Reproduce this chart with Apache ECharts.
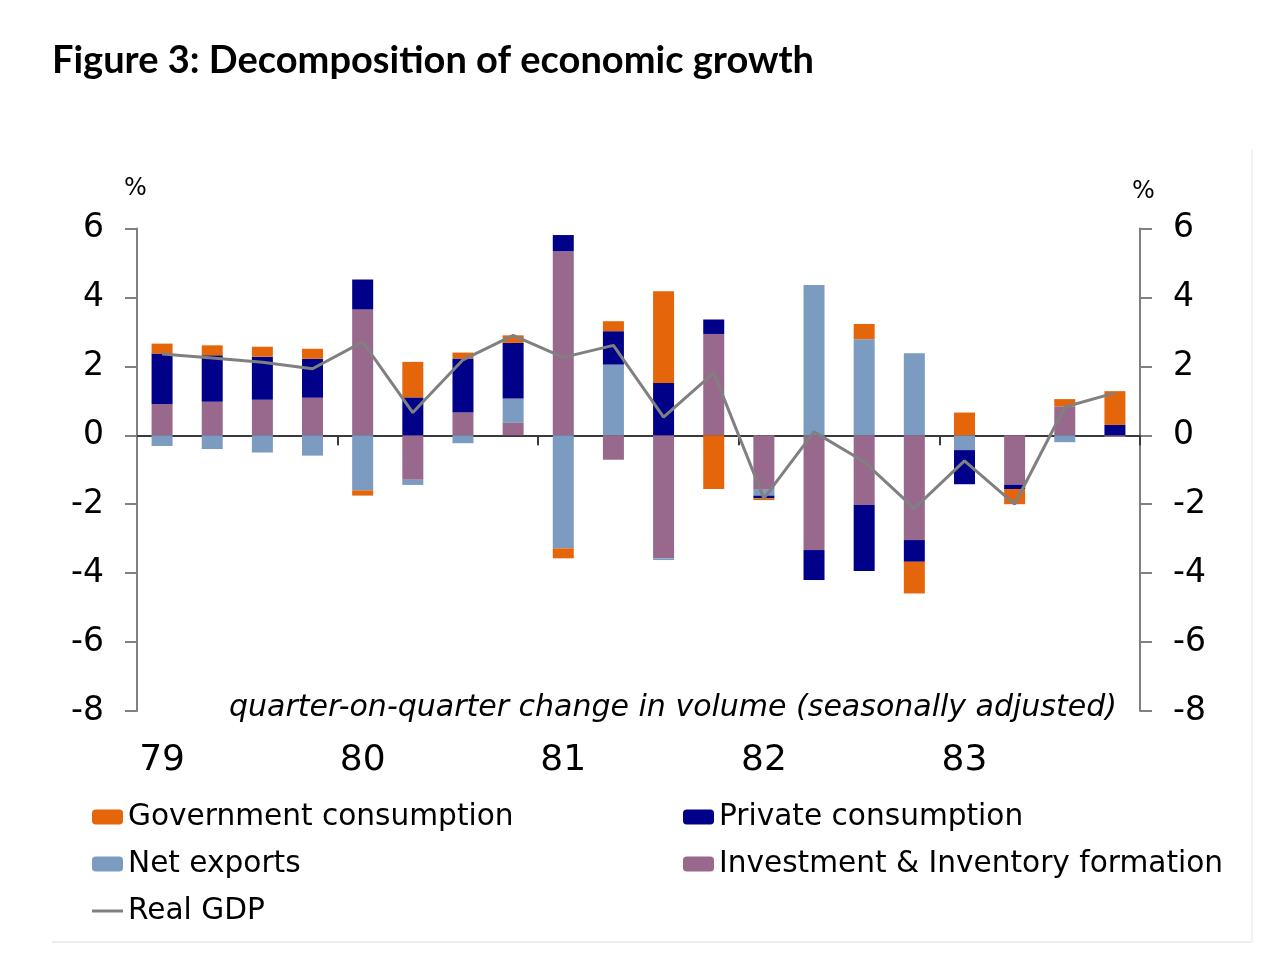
<!DOCTYPE html>
<html>
<head>
<meta charset="utf-8">
<script src="https://cdn.jsdelivr.net/npm/echarts@6/dist/echarts.min.js"></script>
<style>html,body{margin:0;padding:0;background:#fff;}#c{width:1266px;height:966px;}</style>
</head>
<body>
<div id="c"></div>
<script>
const quarters = ['79 Q1','79 Q2','79 Q3','79 Q4','80 Q1','80 Q2','80 Q3','80 Q4','81 Q1','81 Q2','81 Q3','81 Q4','82 Q1','82 Q2','82 Q3','82 Q4','83 Q1','83 Q2','83 Q3','83 Q4'];
const investment = [0.91, 0.97, 1.03, 1.09, 3.65, -1.29, 0.66, 0.36, 5.34, -0.71, -3.57, 2.94, -1.58, -3.33, -2.02, -3.04, 0, -1.43, 0.84, -0.05];
const netExports = [-0.31, -0.40, -0.50, -0.59, -1.60, -0.15, -0.23, 0.71, -3.28, 2.05, -0.05, 0, -0.17, 4.36, 2.79, 2.38, -0.43, 0, -0.20, 0];
const privateCons = [1.46, 1.35, 1.25, 1.13, 0.87, 1.10, 1.57, 1.61, 0.47, 0.97, 1.52, 0.42, -0.08, -0.87, -1.92, -0.63, -0.99, -0.13, 0, 0.30];
const governmentCons = [0.29, 0.29, 0.29, 0.29, -0.15, 1.03, 0.17, 0.22, -0.29, 0.29, 2.66, -1.56, -0.05, 0, 0.44, -0.92, 0.66, -0.44, 0.21, 0.98];
const realGDP = [2.36, 2.24, 2.12, 1.93, 2.71, 0.66, 2.19, 2.90, 2.26, 2.61, 0.53, 1.81, -1.83, 0.10, -0.77, -2.12, -0.74, -2.00, 0.82, 1.23];
const yTicks = {min: -8, max: 6, interval: 2};

const FONT = 'DejaVu Sans';
const C_GOV = '#E5650A', C_PRIV = '#000088', C_NET = '#7B9BC0', C_INV = '#98698C', C_GDP = '#808080';
const AXIS_GRAY = '#808080';

const chart = echarts.init(document.getElementById('c'), null, {renderer: 'canvas'});
const barW = 21;
function bar(name, data, color) {
  return {name, type: 'bar', stack: 'total', data, barWidth: barW, itemStyle: {color}, emphasis: {disabled: true}, z: 2};
}
const yAxisBase = (pos) => ({
  type: 'value', position: pos, min: yTicks.min, max: yTicks.max, interval: yTicks.interval,
  axisLine: {show: true, lineStyle: {color: AXIS_GRAY, width: 2}},
  axisTick: {show: true, length: 12, lineStyle: {color: AXIS_GRAY, width: 2}},
  axisLabel: {fontFamily: FONT, fontSize: 33, color: '#000', margin: 33},
  splitLine: {show: false}
});
const legendText = {fontFamily: FONT, fontSize: 29.6, color: '#000', lineHeight: 30};
chart.setOption({
  animation: false,
  backgroundColor: '#fff',
  title: {
    text: 'Figure 3: Decomposition of economic growth', left: 47, top: 37,
    textStyle: {fontFamily: 'Lato', fontWeight: 'bold', fontSize: 38, color: '#000'}
  },
  grid: {left: 137, right: 126, top: 228.5, bottom: 255, containLabel: false},
  xAxis: [
    {
      type: 'category', data: quarters, boundaryGap: true,
      axisLine: {onZero: true, lineStyle: {color: '#3a3a3a', width: 2}},
      axisTick: {show: true, length: 10, interval: (i) => i % 4 === 0 && i > 0 && i < 20, lineStyle: {color: '#3a3a3a', width: 2}},
      axisLabel: {show: false}
    },
    {
      type: 'category', data: quarters, position: 'bottom', boundaryGap: true,
      axisLine: {show: false, onZero: false}, axisTick: {show: false},
      axisLabel: {interval: (i) => i % 4 === 0, formatter: (v) => v.split(' ')[0], fontFamily: FONT, fontSize: 36, color: '#000', margin: 32}
    }
  ],
  yAxis: [yAxisBase('left'), yAxisBase('right')],
  legend: [
    {
      left: 87, top: 797, orient: 'vertical', itemWidth: 31, itemHeight: 15, itemGap: 17,
      data: ['Government consumption', 'Net exports'], textStyle: legendText
    },
    {
      left: 678, top: 797, orient: 'vertical', itemWidth: 31, itemHeight: 15, itemGap: 17,
      data: ['Private consumption', 'Investment & Inventory formation'], textStyle: legendText
    },
    {
      left: 87, top: 891, orient: 'vertical', itemWidth: 31, itemHeight: 3,
      data: [{name: 'Real GDP', icon: 'rect'}], textStyle: legendText
    }
  ],
  series: [
    bar('Investment & Inventory formation', investment, C_INV),
    bar('Net exports', netExports, C_NET),
    bar('Private consumption', privateCons, C_PRIV),
    bar('Government consumption', governmentCons, C_GOV),
    {
      name: 'Real GDP', type: 'line', data: realGDP, symbol: 'none', z: 5,
      lineStyle: {color: C_GDP, width: 3}, itemStyle: {color: C_GDP}, emphasis: {disabled: true}
    }
  ],
  graphic: [
    {type: 'text', left: 124, top: 177, style: {text: '%', font: '24px "DejaVu Sans"', fill: '#000'}},
    {type: 'text', left: 1132, top: 180, style: {text: '%', font: '24px "DejaVu Sans"', fill: '#000'}},
    {type: 'text', left: 229, top: 693, style: {text: 'quarter-on-quarter change in volume (seasonally adjusted)', font: 'italic 30px "DejaVu Sans"', fill: '#000'}},
    {type: 'line', shape: {x1: 52, y1: 942, x2: 1252, y2: 942}, style: {stroke: '#eeeeee', lineWidth: 2}},
    {type: 'line', shape: {x1: 1252, y1: 150, x2: 1252, y2: 942}, style: {stroke: '#f2f2f2', lineWidth: 2}}
  ]
});
</script>
</body>
</html>
